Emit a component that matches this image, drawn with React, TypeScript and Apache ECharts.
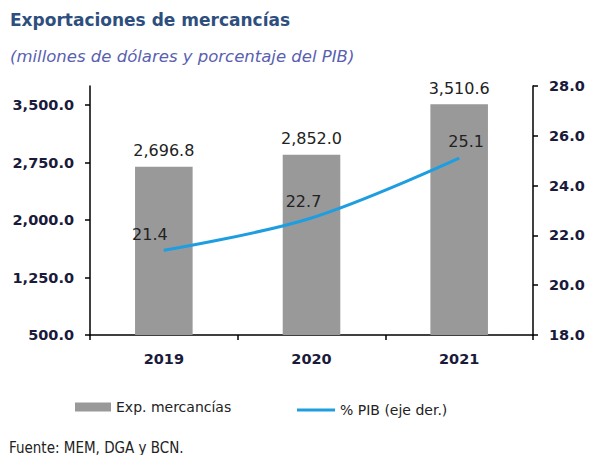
import React, { useEffect, useRef } from "react";
import * as echarts from "echarts";

const categories = ["2019", "2020", "2021"];
const exportValues = [2696.8, 2852.0, 3510.6];
const pibValues = [21.4, 22.7, 25.1];
const leftTicks = [500, 1250, 2000, 2750, 3500];
const rightTicks = [18, 20, 22, 24, 26, 28];

const FONT = "DejaVu Sans";
const LINE_COLOR = "#1e9ee0";

export default function App() {
  const ref = useRef<HTMLDivElement>(null);
  useEffect(() => {
    const chart = echarts.init(ref.current!, null, { renderer: "svg" });
    const fmt = (v: number) =>
      v.toLocaleString("en-US", { minimumFractionDigits: 1, maximumFractionDigits: 1 });
    const lineLabelOffsets = [[-14, 0], [-8, 0], [7, 0]];
    chart.setOption({
      animation: false,
      backgroundColor: "#ffffff",
      textStyle: { fontFamily: FONT },
      title: [
        {
          text: "Exportaciones de mercancías",
          left: 10,
          top: 11,
          padding: 0,
          textStyle: { fontFamily: FONT, fontWeight: "bold", fontSize: 17, color: "#2e4f7e" },
        },
        {
          text: "(millones de dólares y porcentaje del PIB)",
          left: 10,
          top: 48,
          padding: 0,
          textStyle: { fontFamily: FONT, fontStyle: "italic", fontWeight: "normal", fontSize: 16.5, color: "#5a5fb0" },
        },
      ],
      grid: { left: 90, right: 57, top: 86, bottom: 120, containLabel: false },
      legend: [
        {
          left: 70,
          top: 395,
          itemWidth: 36,
          itemHeight: 9,
          textStyle: { fontFamily: FONT, fontSize: 14, color: "#222" },
          data: [{ name: "Exp. mercancías", icon: "rect" }],
        },
        {
          left: 292,
          top: 398,
          itemWidth: 38,
          itemHeight: 3,
          textStyle: { fontFamily: FONT, fontSize: 14, color: "#222" },
          data: [{ name: "% PIB (eje der.)", icon: "rect", itemStyle: { color: LINE_COLOR } }],
        },
      ],
      xAxis: {
        type: "category",
        data: categories,
        boundaryGap: true,
        axisLine: { lineStyle: { color: "#000", width: 1.5 } },
        axisTick: { show: true, inside: false, length: 5, alignWithLabel: false, lineStyle: { color: "#000", width: 1.5 } },
        axisLabel: { fontFamily: FONT, fontWeight: "bold", fontSize: 14.5, color: "#1a1a3a", margin: 16 },
      },
      yAxis: [
        {
          type: "value",
          min: 500,
          max: 3750,
          interval: 750,
          axisLine: { show: true, lineStyle: { color: "#000", width: 1.5 } },
          axisTick: { show: true, length: 5, customValues: leftTicks, lineStyle: { color: "#000", width: 1.5 } },
          axisLabel: {
            customValues: leftTicks,
            fontFamily: FONT,
            fontWeight: "bold",
            fontSize: 14.5,
            color: "#1a1a3a",
            margin: 16,
            formatter: (v: number) => fmt(v),
          },
          splitLine: { show: false },
        },
        {
          type: "value",
          min: 18,
          max: 28,
          interval: 2,
          position: "right",
          axisLine: { show: true, lineStyle: { color: "#000", width: 1.5 } },
          axisTick: { show: true, length: 5, customValues: rightTicks, lineStyle: { color: "#000", width: 1.5 } },
          axisLabel: {
            customValues: rightTicks,
            fontFamily: FONT,
            fontWeight: "bold",
            fontSize: 14.5,
            color: "#1a1a3a",
            margin: 16,
            formatter: (v: number) => v.toFixed(1),
          },
          splitLine: { show: false },
        },
      ],
      series: [
        {
          name: "Exp. mercancías",
          type: "bar",
          data: exportValues,
          barWidth: "39%",
          itemStyle: { color: "#999999" },
          label: {
            show: true,
            position: "top",
            distance: 8,
            fontFamily: FONT,
            fontSize: 16,
            color: "#222",
            formatter: (p: any) => fmt(p.value),
          },
        },
        {
          name: "% PIB (eje der.)",
          type: "line",
          yAxisIndex: 1,
          data: pibValues.map((v, i) => ({
            value: v,
            label: { offset: lineLabelOffsets[i] },
          })),
          smooth: 0.35,
          symbol: "circle",
          symbolSize: 0.5,
          showSymbol: true,
          lineStyle: { color: LINE_COLOR, width: 3 },
          itemStyle: { color: LINE_COLOR },
          label: {
            show: true,
            position: "top",
            distance: 8,
            fontFamily: FONT,
            fontSize: 16,
            color: "#222",
            formatter: (p: any) => Number(p.value).toFixed(1),
          },
          z: 3,
        },
      ],
      graphic: [
        {
          type: "text",
          left: 9,
          top: 440,
          style: { text: "Fuente: MEM, DGA y BCN.", font: "15px 'Liberation Sans Narrow', 'DejaVu Sans Condensed', sans-serif", fill: "#222" },
        },
      ],
    });
    return () => chart.dispose();
  }, []);
  return <div ref={ref} style={{ width: 590, height: 455, position: "absolute", left: 0, top: 0 }} />;
}
